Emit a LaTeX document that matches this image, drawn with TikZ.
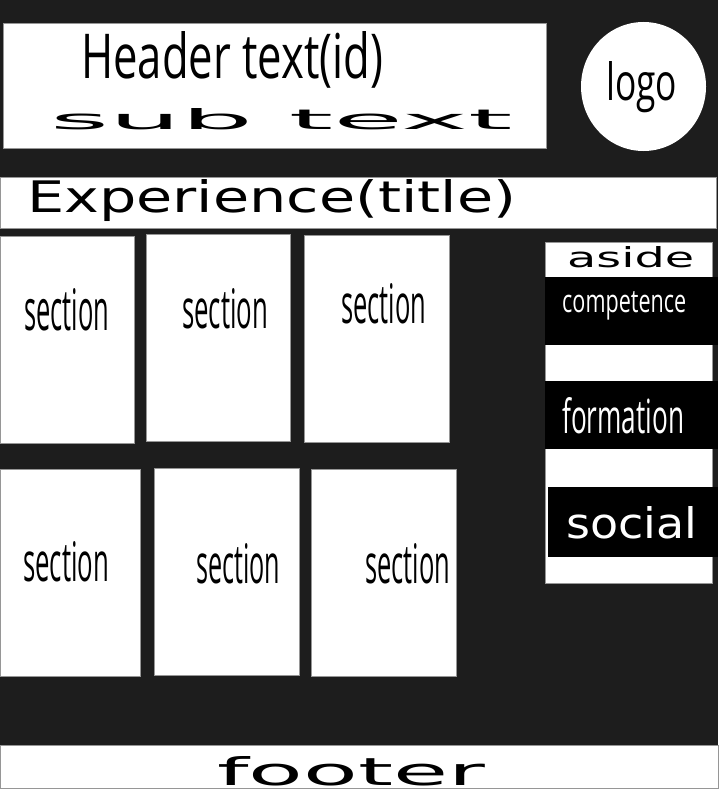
\documentclass[tikz,border=0pt]{standalone}
\usepackage{fontspec}
\usepackage{graphicx}
\setmainfont{DejaVu Sans}
\newfontfamily\narrowfont{Open Sans}
\usepackage{tikz}
\usetikzlibrary{shapes.geometric}
\pgfdeclarelayer{background}
\pgfsetlayers{background,main}
\definecolor{bgdark}{RGB}{29,29,29}
\definecolor{edgegray}{RGB}{150,150,150}
\newcommand{\fitlabel}[3]{\resizebox{#1pt}{#2pt}{#3}}
\tikzset{
  wbox/.style={draw=edgegray, fill=white, line width=0.5pt, inner sep=0pt, anchor=north west},
  bbox/.style={fill=black, inner sep=0pt, anchor=north west},
  lbl/.style={inner sep=0pt, anchor=base west},
}
\begin{document}
\begin{tikzpicture}[x=1pt,y=-1pt]
\useasboundingbox (0,0) rectangle (718,789);
\begin{pgfonlayer}{background}
\fill[bgdark] (0,0) rectangle (718,789);
\end{pgfonlayer}
% header
\node[wbox, minimum width=543pt, minimum height=125pt] (header) at (3,23) {};
\node[lbl] (headertext) at (81,79) {\fitlabel{302}{47}{\narrowfont Header text(id)}};
\node[lbl] (subtext) at (50,129) {\fitlabel{462}{21}{sub text}};
\node[ellipse, fill=white, inner sep=0pt, minimum width=125pt, minimum height=129pt] (logo) at (643.5,86.5) {};
\node[lbl] (logotext) at (606,101) {\fitlabel{71}{39}{\narrowfont logo}};
% title
\node[wbox, minimum width=716pt, minimum height=51pt] (title) at (0,177) {};
\node[lbl] (titletext) at (27,212) {\fitlabel{489}{33}{Experience(title)}};
% sections
\node[wbox, minimum width=134pt, minimum height=207pt] (sec1) at (0,236) {};
\node[wbox, minimum width=144pt, minimum height=207pt] (sec2) at (146,234) {};
\node[wbox, minimum width=145pt, minimum height=207pt] (sec3) at (304,235) {};
\node[wbox, minimum width=140pt, minimum height=207pt] (sec4) at (0,469) {};
\node[wbox, minimum width=145pt, minimum height=207pt] (sec5) at (154,468) {};
\node[wbox, minimum width=145pt, minimum height=207pt] (sec6) at (311,469) {};
\node[lbl] (sec1text) at (24,330) {\fitlabel{85}{42}{\narrowfont section}};
\node[lbl] (sec2text) at (182,328) {\fitlabel{86}{40}{\narrowfont section}};
\node[lbl] (sec3text) at (341,323) {\fitlabel{85}{40}{\narrowfont section}};
\node[lbl] (sec4text) at (23,581) {\fitlabel{86}{40}{\narrowfont section}};
\node[lbl] (sec5text) at (196,583) {\fitlabel{84}{40}{\narrowfont section}};
\node[lbl] (sec6text) at (365,583) {\fitlabel{85}{40}{\narrowfont section}};
% aside
\node[wbox, minimum width=167pt, minimum height=341pt] (aside) at (545,242) {};
\node[lbl] (asidetext) at (567,267) {\fitlabel{127}{21}{aside}};
\node[bbox, minimum width=173pt, minimum height=68pt] (competence) at (545,277) {};
\node[lbl, text=white] (competencetext) at (562,312) {\fitlabel{124}{21}{\narrowfont competence}};
\node[bbox, minimum width=173pt, minimum height=68pt] (formation) at (545,381) {};
\node[lbl, text=white] (formationtext) at (562,433) {\fitlabel{122}{36}{\narrowfont formation}};
\node[bbox, minimum width=170pt, minimum height=70pt] (social) at (548,487) {};
\node[lbl, text=white] (socialtext) at (566,538) {\fitlabel{131}{32}{social}};
% footer
\node[wbox, minimum width=718pt, minimum height=43pt] (footer) at (0,745) {};
\node[lbl] (footertext) at (217,785.5) {\fitlabel{268}{29}{footer}};
\end{tikzpicture}
\end{document}
